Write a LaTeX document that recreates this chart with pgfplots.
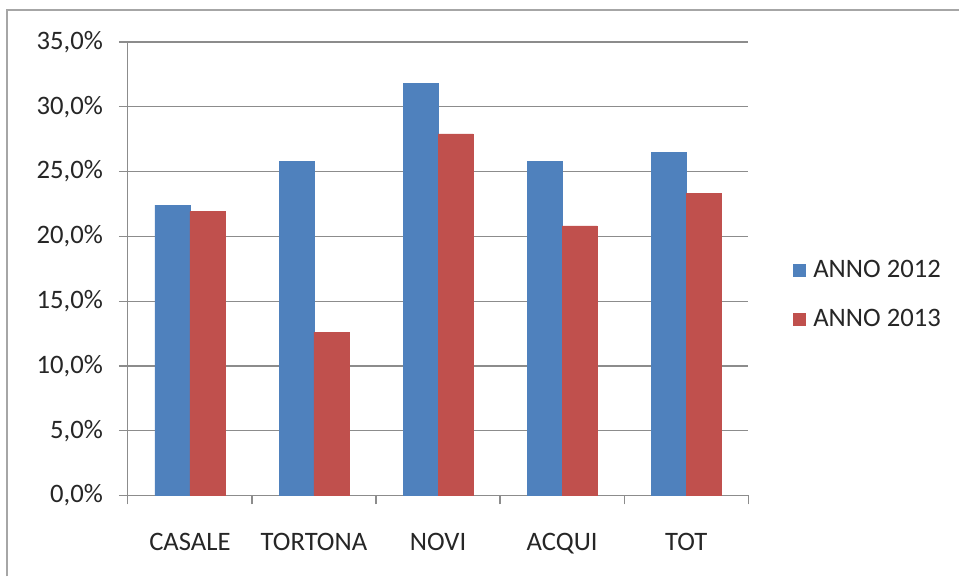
\documentclass[border=0pt]{standalone}
\usepackage{pgfplots}
\pgfplotsset{compat=1.18}
\usepackage{fontspec}
\setmainfont{Carlito}
\definecolor{cblue}{HTML}{4F81BD}
\definecolor{cred}{HTML}{C0504D}
\definecolor{gridc}{HTML}{8C8C8C}
\begin{document}
\begin{tikzpicture}
\path (0pt,0pt) rectangle (720pt,432.75pt);
\draw[gray!70, line width=1.5pt] (5.25pt,0pt) -- (5.25pt,425.25pt) -- (720pt,425.25pt);
\begin{axis}[
  at={(96pt,60.75pt)}, anchor=south west, scale only axis,
  width=465.75pt, height=340.5pt,
  ybar=0pt, bar width=26.25pt,
  xmin=-0.5, xmax=4.5, ymin=0, ymax=35,
  xtick={0,1,2,3,4},
  xticklabels={CASALE,TORTONA,NOVI,ACQUI,TOT},
  ytick={0,5,10,15,20,25,30,35},
  yticklabel={\pgfmathprintnumber[fixed,fixed zerofill,precision=1,use comma]{\tick}\%},
  /pgf/number format/assume math mode=true,
  axis x line*=bottom, axis y line*=left,
  axis line style={gridc, line width=0.9pt, -},
  ymajorgrids, grid style={gridc, line width=0.9pt},
  x tick style={draw=none},
  y tick style={gridc, line width=0.9pt},
  tick align=outside, major tick length=6.75pt,
  extra x ticks={-0.5,0.5,1.5,2.5,3.5,4.5},
  extra x tick labels={},
  extra x tick style={grid=none, x tick style={draw=gridc, line width=0.9pt}, major tick length=6.75pt, tick align=outside},
  tick label style={font=\fontsize{20}{24}\selectfont, text=black!85},
  xticklabel style={yshift=-18pt},
  yticklabel style={xshift=-8.5pt},
  legend style={at={(1.065,0.443)}, anchor=west, draw=none, fill=none,
    font=\fontsize{20}{24}\selectfont, text=black!85, row sep=18pt,
    legend cell align=left},
  legend image code/.code={\fill[#1] (0pt,-4.5pt) rectangle (9pt,4.5pt);},
]
\addplot[fill=cblue, draw=cblue] coordinates {(0,22.4) (1,25.8) (2,31.8) (3,25.8) (4,26.5)};
\addplot[fill=cred, draw=cred] coordinates {(0,21.9) (1,12.6) (2,27.9) (3,20.8) (4,23.3)};
\legend{\hspace{4pt}ANNO 2012, \hspace{4pt}ANNO 2013}
\end{axis}
\end{tikzpicture}
\end{document}
